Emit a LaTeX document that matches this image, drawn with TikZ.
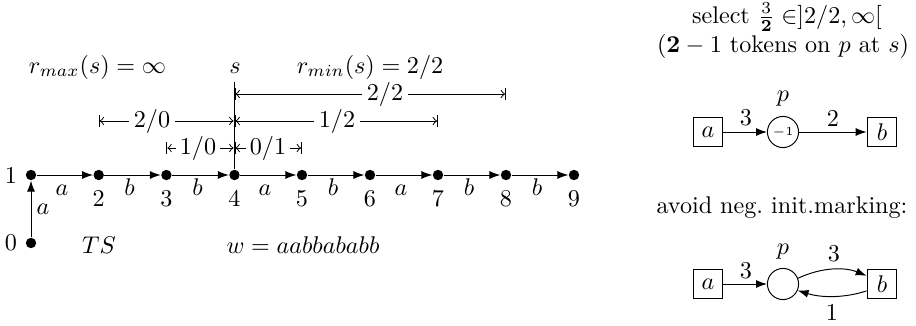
\documentclass[tikz,border=0pt]{standalone}
\usetikzlibrary{arrows.meta}
\begin{document}
\begin{tikzpicture}[x=0.4143pt,y=-0.4143pt,>=to,
  dot/.style={circle,fill=black,inner sep=0pt,minimum size=4.3pt},
  edge/.style={-{Latex[length=4.5pt,width=3.3pt]}},
  dim/.style={|<->|},
  lab/.style={fill=white,inner xsep=2.2pt,inner ysep=0.8pt},
  trans/.style={draw,rectangle,minimum size=12.4pt,inner sep=0pt},
  place/.style={draw,circle,minimum size=12.9pt,inner sep=0pt},
  txt/.style={anchor=base,inner sep=0pt},
  wlab/.style={inner sep=0pt}]
\useasboundingbox (0,0) rectangle (916,326);
% states
\node[dot] (n0) at (31,243) {};
\node[dot] (n1) at (31,175) {};
\node[dot] (n2) at (98.7,175) {};
\node[dot] (n3) at (166.4,175) {};
\node[dot] (n4) at (234.5,175) {};
\node[dot] (n5) at (302,175) {};
\node[dot] (n6) at (370,175) {};
\node[dot] (n7) at (438,175) {};
\node[dot] (n8) at (506,175) {};
\node[dot] (n9) at (574,175) {};
% state labels
\node (l0) at (11,243) {0};
\node (l1) at (11,175) {1};
\node[txt] (l2) at (98.7,206) {2};
\node[txt] (l3) at (166.4,206) {3};
\node[txt] (l4) at (234.5,206) {4};
\node[txt] (l5) at (302,206) {5};
\node[txt] (l6) at (370,206) {6};
\node[txt] (l7) at (438,206) {7};
\node[txt] (l8) at (506,206) {8};
\node[txt] (l9) at (574,206) {9};
% transitions
\draw[edge] (n0) -- (n1);
\node (e0) at (43,209) {$a$};
\draw[edge] (n1) -- (n2);
\draw[edge] (n2) -- (n3);
\draw[edge] (n3) -- (n4);
\draw[edge] (n4) -- (n5);
\draw[edge] (n5) -- (n6);
\draw[edge] (n6) -- (n7);
\draw[edge] (n7) -- (n8);
\draw[edge] (n8) -- (n9);
\node[txt] (e1) at (62,195) {$a$};
\node[txt] (e2) at (129.5,195) {$b$};
\node[txt] (e3) at (197.5,195) {$b$};
\node[txt] (e4) at (265,195) {$a$};
\node[txt] (e5) at (333,195) {$b$};
\node[txt] (e6) at (401,195) {$a$};
\node[txt] (e7) at (469,195) {$b$};
\node[txt] (e8) at (537,195) {$b$};
\node (ts) at (99,245) {$TS$};
\node (w) at (303,245) {$w = aabbababb$};
% top labels
\node[txt] (rmax) at (97.5,73) {$r_{max}(s) = \infty$};
\node[txt] (s) at (235,73) {$s$};
\node[txt] (rmin) at (370,73) {$r_{min}(s) = 2/2$};
% s line
\coordinate (stop) at (234.5,82);
\draw (stop) -- (n4);
% dimension arrows
\coordinate (a22) at (234.5,94);
\coordinate (b22) at (506,94);
\draw[dim] (a22) -- (b22);
\node[lab] (t22) at (385,94) {$2/2$};
\coordinate (a20) at (98.7,121);
\coordinate (b20) at (234.5,121);
\draw[dim] (a20) -- (b20);
\node[lab] (t20) at (152,121) {$2/0$};
\coordinate (a12) at (234.5,121);
\coordinate (b12) at (438,121);
\draw[dim] (a12) -- (b12);
\node[lab] (t12) at (337,121) {$1/2$};
\coordinate (a10) at (166.4,148);
\coordinate (b10) at (234.5,148);
\draw[dim] (a10) -- (b10);
\node[lab,inner xsep=1.5pt] (t10) at (198,148) {$1/0$};
\coordinate (a01) at (234.5,148);
\coordinate (b01) at (302,148);
\draw[dim] (a01) -- (b01);
\node[lab,inner xsep=1.5pt] (t01) at (268,148) {$0/1$};
% right side
\node[wlab] (sel) at (787,17) {select $\frac{3}{\mathbf{2}} \in ]2/2, \infty[$};
\node[wlab] (tok) at (783,46) {$(\mathbf{2}-1$ tokens on $p$ at $s)$};
\node[trans] (a1) at (708,132) {$a$};
\node[place] (p1) at (783,132) {$\scriptscriptstyle -1$};
\node[trans] (b1) at (882,132) {$b$};
\node (pl1) at (783,99) {$p$};
\draw[edge] (a1) -- (p1);
\draw[edge] (p1) -- (b1);
\node (w31) at (746,118) {3};
\node (w21) at (833,118) {2};
\node (avoid) at (782,208) {avoid neg.\ init.marking:};
\node[trans] (a2) at (708,284) {$a$};
\node[place] (p2) at (783,284) {};
\node[trans] (b2) at (882,284) {$b$};
\node (pl2) at (783,252) {$p$};
\draw[edge] (a2) -- (p2);
\node (w32) at (746,271) {3};
\draw[edge] (p2.21) .. controls (822,267) and (845,267) .. (b2.152);
\draw[edge] (b2.204) .. controls (845,298) and (822,298) .. (p2.-24);
\node (w3) at (834,254) {3};
\node (w1) at (832,312) {1};
\end{tikzpicture}
\end{document}
